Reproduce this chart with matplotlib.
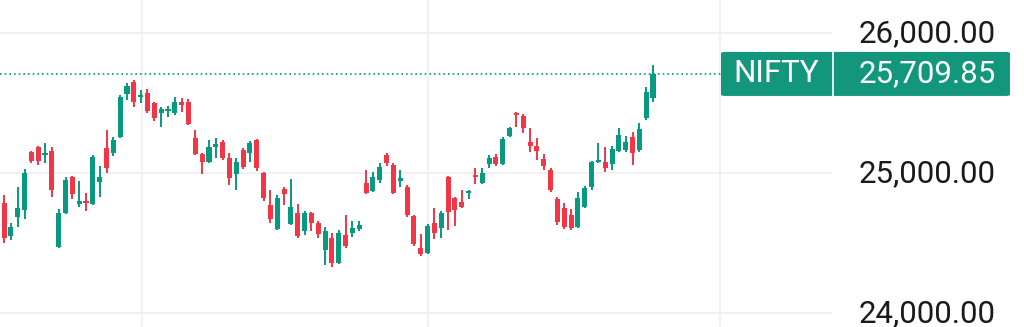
#
# plot.py - NIFTY daily candles with last-price tag
#
import numpy as np
import matplotlib
matplotlib.use('Agg')
import matplotlib.pyplot as plt
from matplotlib.patches import FancyBboxPatch

plt.rcParams['font.family'] = ['Roboto', 'DejaVu Sans']

# daily OHLC (oldest first)
opens = [24788, 24552, 24688, 24738, 25152, 25188, 25131, 25159, 24474, 24717,
         24974, 24781, 24795, 24781, 24938, 25181, 25145, 25259, 25567, 25652,
         25545, 25574, 25502, 25431, 25445, 25431, 25509, 25509, 25252, 25138,
         25081, 25188, 25224, 25109, 24995, 25167, 25145, 25238, 25002, 24774,
         24602, 24888, 24638, 24717, 24588, 24717, 24645, 24452, 24538, 24359,
         24559, 24574, 24602, 24931, 24874, 24952, 25131, 25059, 24945, 24902,
         24695, 24467, 24431, 24645, 24609, 24974, 24824, 24795, 24859, 24988,
         24931, 25067, 25117, 25067, 25267, 25431, 25409, 25224, 25195, 25102,
         25024, 24817, 24752, 24702, 24617, 24759, 24902, 25081, 25081, 25067,
         25159, 25167, 25259, 25167, 25395, 25538]
highs = [24845, 24645, 24902, 25031, 25159, 25195, 25217, 25188, 24745, 24974,
         24981, 24945, 24859, 25131, 25052, 25309, 25259, 25559, 25645, 25667,
         25595, 25602, 25509, 25474, 25481, 25545, 25538, 25531, 25309, 25145,
         25238, 25252, 25238, 25145, 25109, 25181, 25231, 25245, 25009, 24881,
         24845, 24902, 24959, 24781, 24731, 24724, 24659, 24617, 24574, 24595,
         24702, 24659, 24659, 25024, 25009, 25074, 25145, 25074, 25024, 24917,
         24702, 24567, 24638, 24752, 24731, 24981, 24831, 24881, 24881, 25038,
         25038, 25131, 25138, 25259, 25331, 25438, 25424, 25324, 25252, 25138,
         25038, 24831, 24788, 24745, 24867, 24909, 25088, 25217, 25188, 25195,
         25324, 25267, 25295, 25359, 25617, 25774]
lows = [24502, 24524, 24617, 24674, 25074, 25059, 25074, 24831, 24467, 24709,
        24817, 24759, 24731, 24775, 24831, 25002, 25124, 25252, 25524, 25474,
        25502, 25431, 25374, 25331, 25402, 25417, 25438, 25345, 25131, 24995,
        25075, 25109, 25095, 24917, 24881, 25031, 25081, 25017, 24802, 24645,
        24596, 24774, 24632, 24538, 24559, 24588, 24538, 24345, 24331, 24352,
        24467, 24545, 24588, 24852, 24867, 24931, 25052, 24855, 24902, 24688,
        24481, 24409, 24425, 24531, 24538, 24595, 24624, 24752, 24817, 24924,
        24925, 25038, 25052, 25060, 25262, 25331, 25288, 25152, 25095, 25024,
        24867, 24631, 24602, 24595, 24609, 24752, 24881, 25074, 25009, 25024,
        25152, 25152, 25059, 25152, 25381, 25509]
closes = [24538, 24617, 24752, 25002, 25088, 25088, 25145, 24881, 24717, 24952,
          24852, 24802, 24788, 25117, 24974, 25038, 25238, 25545, 25624, 25509,
          25559, 25445, 25395, 25459, 25452, 25509, 25488, 25352, 25138, 25081,
          25188, 25209, 25109, 24967, 25081, 25045, 25217, 25038, 24824, 24674,
          24824, 24852, 24759, 24552, 24717, 24645, 24567, 24588, 24359, 24574,
          24481, 24609, 24631, 24859, 24974, 25045, 25074, 24859, 24967, 24702,
          24495, 24424, 24624, 24574, 24717, 24724, 24738, 24759, 24867, 24974,
          25002, 25109, 25067, 25245, 25324, 25417, 25324, 25195, 25159, 25052,
          24881, 24652, 24617, 24609, 24824, 24895, 25081, 25095, 25038, 25174,
          25274, 25224, 25145, 25317, 25581, 25709.85]

last_price = 25709.85
symbol = 'NIFTY'
price_levels = [24000, 25000, 26000]
month_lines = [20.2, 62.1, 104.8]   # candle index where the vertical grid lines sit

up_color = '#089981'
down_color = '#f23645'
tag_color = '#12977d'
grid_color = '#f0f0f0'

W, H = 1024, 327
fig = plt.figure(figsize=(W / 100, H / 100), dpi=100)
ax = fig.add_axes([0, 0, 832 / W, 1])

n = len(opens)
x = np.arange(n)
o = np.array(opens)
c = np.array(closes)
up = c >= o
colors = np.where(up, up_color, down_color)

# grid
for lvl in price_levels:
    ax.axhline(lvl, color=grid_color, lw=1.3, zorder=0)
for m in month_lines:
    ax.axvline(m, color=grid_color, lw=1.3, zorder=0)

# wicks then bodies
ax.vlines(x, lows, highs, colors=colors, lw=1.4, zorder=2)
body_lo = np.minimum(o, c)
body_h = np.maximum(np.abs(c - o), 12)
ax.bar(x, body_h, bottom=body_lo, width=0.74, color=colors, linewidth=0, zorder=3)

ax.set_xlim(-0.59, 121.2)
ax.set_ylim(23902, 26238)
ax.axis('off')

# last price dotted line, stops at the tag
ax.plot([-0.59, (721 - 4) / 6.83], [last_price, last_price], color=up_color,
        lw=1.2, linestyle=(0, (1, 1.8)), zorder=1)

# price scale labels on the right
for lvl in price_levels:
    yf = ax.transLimits.transform((0, lvl))[1]
    fig.text(996 / W, yf, f'{lvl:,.2f}', ha='right', va='center',
             fontsize=22.5, color='#1a1a1a')

# last price tag
yc = ax.transLimits.transform((0, last_price))[1]
box_h = 44 / H
tag = FancyBboxPatch((721 / W, yc - box_h / 2), (1010 - 721) / W, box_h,
                     boxstyle='round,pad=0,rounding_size=0.004',
                     transform=fig.transFigure, facecolor=tag_color,
                     edgecolor='none', zorder=5)
fig.add_artist(tag)
fig.add_artist(plt.Line2D([833 / W, 833 / W], [yc - box_h / 2, yc + box_h / 2],
                          transform=fig.transFigure, color='white', lw=1.2, zorder=6))
fig.text(776 / W, yc, symbol, ha='center', va='center', fontsize=22.5,
         color='white', zorder=7)
fig.text(996 / W, yc, f'{last_price:,.2f}', ha='right', va='center',
         fontsize=22.5, color='white', zorder=7)

fig.savefig('out.png', dpi=100, facecolor='white')
